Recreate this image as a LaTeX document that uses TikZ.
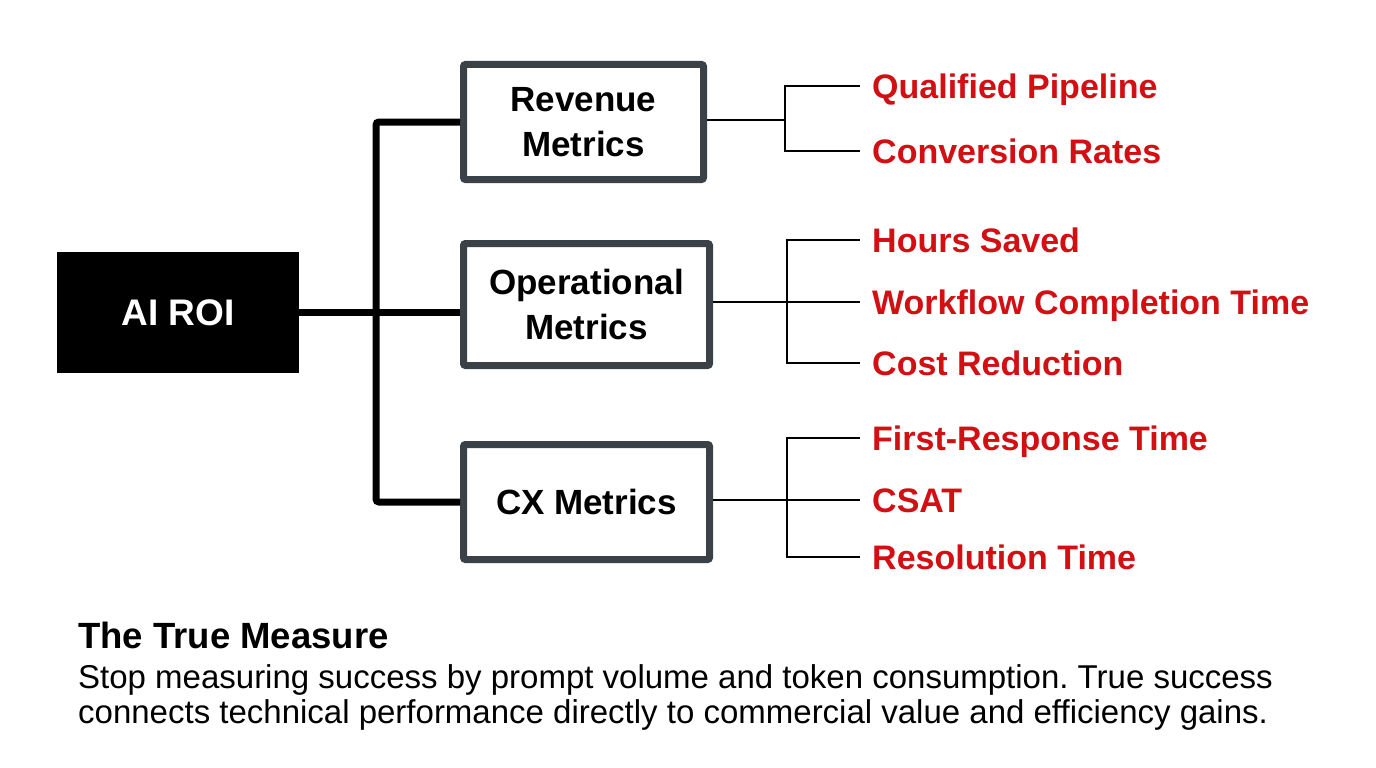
\documentclass[tikz,border=0pt]{standalone}
\usepackage{fontspec}
\setmainfont{Liberation Sans}
\usetikzlibrary{positioning,calc}
\definecolor{leafred}{RGB}{210,16,20}
\definecolor{boxgray}{RGB}{58,66,72}
\frenchspacing

\begin{document}
\begin{tikzpicture}[x=1pt, y=-1pt,
  root/.style={rectangle, fill=black, text=white, minimum width=242pt,
               minimum height=121pt, font=\fontsize{37}{44}\selectfont\bfseries},
  catbox/.style={rectangle, rounded corners=2pt, draw=boxgray, line width=7pt,
                 fill=white, minimum width=246pt, minimum height=115pt,
                 inner sep=0pt, align=center, font=\fontsize{35}{45}\selectfont\bfseries},
  leaf/.style={anchor=west, inner xsep=12pt, inner ysep=0pt, text=leafred,
               text height=24pt, text depth=0pt, font=\fontsize{34}{40}\selectfont\bfseries},
  trunk/.style={line width=7pt, rounded corners=3pt},
  branch/.style={line width=2.5pt}
]
  \fill[white] (0,0) rectangle (1376,768);
  \useasboundingbox (0,0) rectangle (1376,768);

  \node[root] (roi) at (178,312.5) {AI ROI};
  \node[catbox, minimum width=240pt] (rev) at (583.5,122) {Revenue\\Metrics};
  \node[catbox, minimum height=122pt] (ops) at (586.5,304.5) {Operational\\Metrics};
  \node[catbox] (cx) at (586.5,502) {CX Metrics};

  \coordinate (hub) at (376,312.5);
  \draw[trunk] (roi.east) -- (roi.east -| ops.west);
  \draw[trunk] (rev.west) -| (hub) |- (cx.west);

  % revenue leaves
  \node[leaf] (qp) at (860,86) {Qualified Pipeline};
  \node[leaf] (cr) at (860,151) {Conversion Rates};
  \coordinate (revfork) at (785,120);
  \draw[branch] (rev.east |- revfork) -- (revfork);
  \draw[branch] (qp.west) -| (revfork) |- (cr.west);

  % operational leaves
  \node[leaf] (hs) at (860,240) {Hours Saved};
  \node[leaf] (wct) at (860,302) {Workflow Completion Time};
  \node[leaf] (cost) at (860,363) {Cost Reduction};
  \coordinate (opsfork) at (787,302);
  \draw[branch] (ops.east |- opsfork) -- (wct.west);
  \draw[branch] (hs.west) -| (opsfork) |- (cost.west);

  % cx leaves
  \node[leaf] (frt) at (860,438) {First-Response Time};
  \node[leaf] (csat) at (860,500) {CSAT};
  \node[leaf] (rt) at (860,557) {Resolution Time};
  \coordinate (cxfork) at (787,500);
  \draw[branch] (cx.east |- cxfork) -- (csat.west);
  \draw[branch] (frt.west) -| (cxfork) |- (rt.west);

  % note below
  \node[anchor=base west, inner sep=0pt, font=\fontsize{36.5}{40}\selectfont\bfseries]
    (title) at (78,648) {The True Measure};
  \node[anchor=base west, inner sep=0pt, font=\fontsize{33}{36}\selectfont]
    (body1) at (78,688) {Stop measuring success by prompt volume and token consumption. True success};
  \node[anchor=base west, inner sep=0pt, font=\fontsize{33}{36}\selectfont]
    (body2) at (78,723) {connects technical performance directly to commercial value and efficiency gains.};
\end{tikzpicture}
\end{document}
